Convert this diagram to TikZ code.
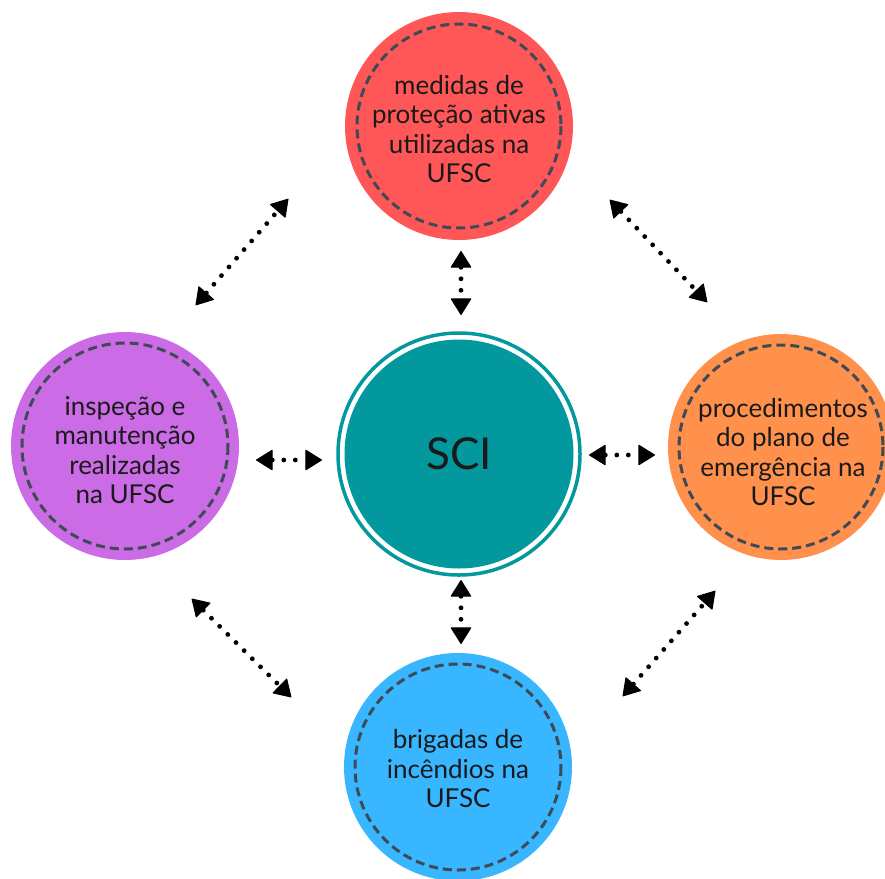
\documentclass[tikz,border=0pt]{standalone}
\usepackage{fontspec}
\setmainfont{Lato}
\usetikzlibrary{arrows.meta}
\definecolor{cred}{HTML}{FF5757}
\definecolor{cpurple}{HTML}{CB6CE6}
\definecolor{corange}{HTML}{FF914D}
\definecolor{cblue}{HTML}{38B6FF}
\definecolor{cteal}{HTML}{03989E}
\definecolor{cdash}{HTML}{3E4A56}
\definecolor{ctext}{HTML}{1A1A1A}
\tikzset{
  topic/.style={circle, minimum size=226pt, inner sep=0pt, text=ctext, align=center,
    font=\fontsize{26}{29.5}\selectfont},
  dashring/.style={draw=cdash, line width=3pt, dash pattern=on 9pt off 5pt},
  dotarrow/.style={line width=4.8pt, line cap=round, dash pattern=on 0pt off 11.5pt,
    {Triangle[length=17pt,width=21pt,line width=1pt,round]}-{Triangle[length=17pt,width=21pt,line width=1pt,round]},
    shorten <=1pt, shorten >=1pt}
}
\begin{document}
\begin{tikzpicture}[x=1pt,y=-1pt]
\useasboundingbox (0,0) rectangle (885,878);
% topic circles
\fill[cred] (459,126) circle (114);
\draw[dashring] (459,126) circle (102);
\node[topic] (top) at (459,129) {medidas de\\proteção ativas\\utilizadas na\\UFSC};

\fill[cpurple] (125,446) circle (114);
\draw[dashring] (125,446) circle (103);
\node[topic] (left) at (125,450) {inspeção e\\manutenção\\realizadas\\na UFSC};

\fill[corange] (781,447) circle (113);
\draw[dashring] (781,447) circle (102);
\node[topic] (right) at (783,452) {procedimentos\\do plano de\\emergência na\\UFSC};

\fill[cblue] (458,767) circle (114);
\draw[dashring] (458,767) circle (103);
\node[topic] (bottom) at (458,769) {brigadas de\\incêndios na\\UFSC};

% central
\draw[cteal, line width=3.5pt] (459,454) circle (121);
\fill[cteal] (459,454) circle (114.5);
\node[circle, minimum size=229pt, inner sep=0pt, text=ctext,
  font=\fontsize{44}{44}\selectfont] (sci) at (459,454) {SCI};

% arrow endpoints
\coordinate (v1a) at (461,250); \coordinate (v1b) at (461,316);
\coordinate (v2a) at (461,579); \coordinate (v2b) at (461,645);
\coordinate (h1a) at (255,460); \coordinate (h1b) at (323,460);
\coordinate (h2a) at (588,455); \coordinate (h2b) at (656,455);
\coordinate (d1a) at (195,306); \coordinate (d1b) at (289,198);
\coordinate (d2a) at (609,199); \coordinate (d2b) at (708,303);
\coordinate (d3a) at (191,598); \coordinate (d3b) at (292,698);
\coordinate (d4a) at (622,697); \coordinate (d4b) at (716,590);

\draw[dotarrow] (v1a) -- (v1b);
\draw[dotarrow] (v2a) -- (v2b);
\draw[dotarrow] (h1a) -- (h1b);
\draw[dotarrow] (h2a) -- (h2b);
\draw[dotarrow] (d1a) -- (d1b);
\draw[dotarrow] (d2a) -- (d2b);
\draw[dotarrow] (d3a) -- (d3b);
\draw[dotarrow] (d4a) -- (d4b);
\end{tikzpicture}
\end{document}
